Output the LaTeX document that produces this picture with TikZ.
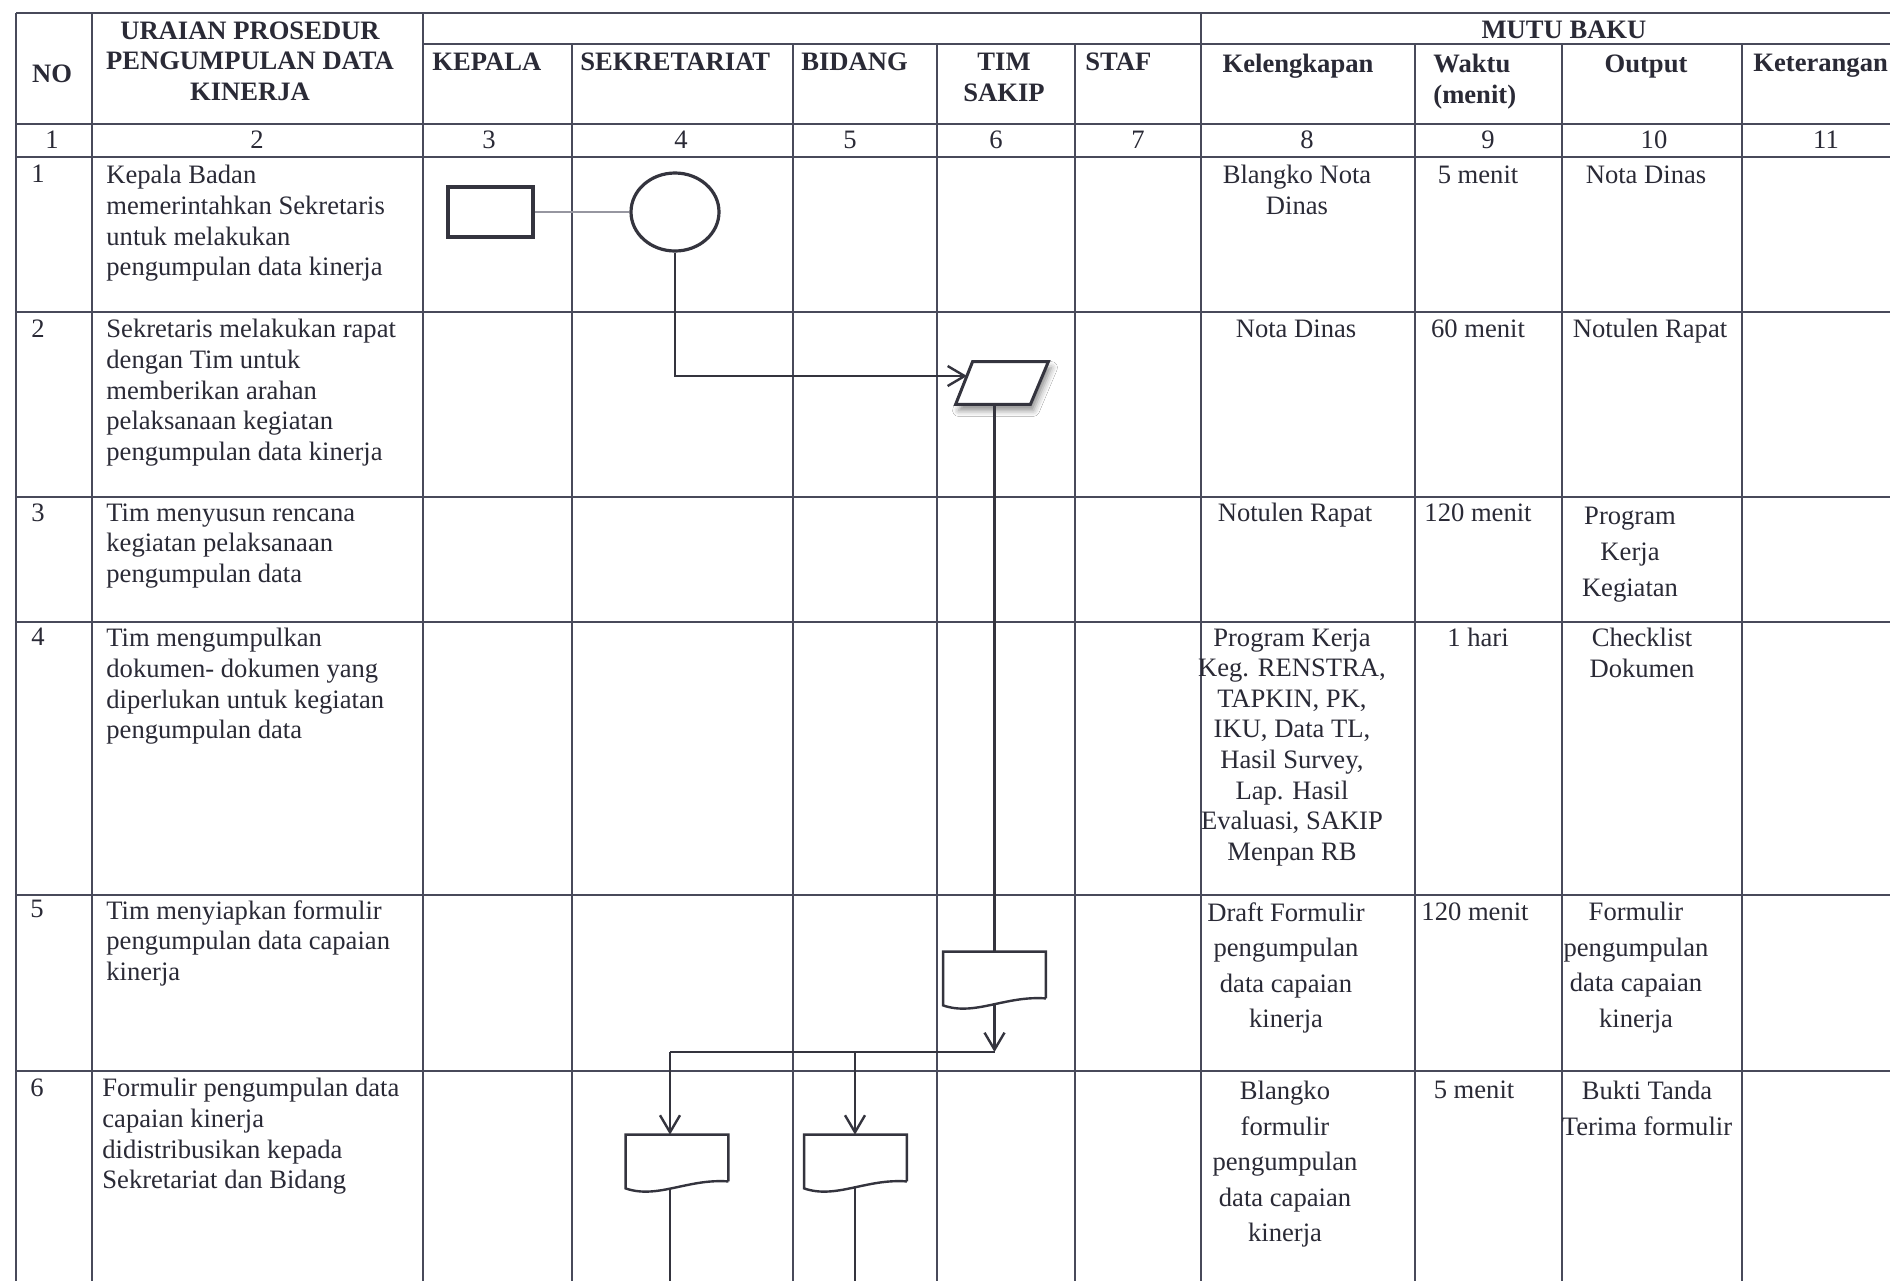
\documentclass[tikz,border=0pt]{standalone}
\usepackage{fontspec}
\setmainfont{Liberation Serif}
\usetikzlibrary{arrows.meta,calc,shapes.geometric,shadows.blur}

\definecolor{gridcol}{RGB}{72,74,90}
\definecolor{inkcol}{RGB}{42,42,54}
\definecolor{flowcol}{RGB}{52,52,62}
\definecolor{linkcol}{RGB}{150,150,160}

\begin{document}
\begin{tikzpicture}[x=0.5pt, y=-0.5pt]
\fill[white] (0,0) rectangle (1890,1281);
\useasboundingbox (0,0) rectangle (1890,1281);

\tikzset{GridStyle/.style = {draw=gridcol, line width=0.9pt} }

% table rows
\draw[GridStyle] (16,13) -- (1890,13);
\draw[GridStyle] (423,44) -- (1890,44);
\draw[GridStyle] (16,124) -- (1890,124);
\draw[GridStyle] (16,157) -- (1890,157);
\draw[GridStyle] (16,312) -- (1890,312);
\draw[GridStyle] (16,497) -- (1890,497);
\draw[GridStyle] (16,622) -- (1890,622);
\draw[GridStyle] (16,895) -- (1890,895);
\draw[GridStyle] (16,1071) -- (1890,1071);

% table columns
\draw[GridStyle] (16,13) -- (16,1281);
\draw[GridStyle] (92,13) -- (92,1281);
\draw[GridStyle] (423,13) -- (423,1281);
\draw[GridStyle] (572,44) -- (572,1281);
\draw[GridStyle] (793,44) -- (793,1281);
\draw[GridStyle] (937,44) -- (937,1281);
\draw[GridStyle] (1075,44) -- (1075,1281);
\draw[GridStyle] (1201,13) -- (1201,1281);
\draw[GridStyle] (1415,44) -- (1415,1281);
\draw[GridStyle] (1562,44) -- (1562,1281);
\draw[GridStyle] (1742,44) -- (1742,1281);


\tikzset{CellStyle/.style = {
 inner sep = 0pt,
 text = inkcol,
 font = {\fontsize{13.3}{15.3}\selectfont} },
 HeadStyle/.style = {CellStyle, font = {\fontsize{13.3}{15.3}\selectfont\bfseries} },
 WideStyle/.style = {CellStyle, font = {\fontsize{13.3}{17.75}\selectfont} } }

% header
\node[HeadStyle] (HNo) at (52,74) {NO};
\node[HeadStyle, anchor=north, align=center] (HUraian) at (250,21) {URAIAN PROSEDUR\\PENGUMPULAN DATA\\KINERJA};
\node[HeadStyle, anchor=west] (HKepala) at (432,62) {KEPALA};
\node[HeadStyle, anchor=west] (HSekretariat) at (580,62) {SEKRETARIAT};
\node[HeadStyle, anchor=west] (HBidang) at (801,62) {BIDANG};
\node[HeadStyle, anchor=north, align=center] (HTim) at (1004,53) {TIM\\SAKIP};
\node[HeadStyle, anchor=west] (HStaf) at (1085,62) {STAF};
\node[HeadStyle] (HMutu) at (1564,30) {MUTU BAKU};
\node[HeadStyle, anchor=north] (HKelengkapan) at (1298,54) {Kelengkapan};
\node[HeadStyle, anchor=north west, align=left] (HWaktu) at (1433,54) {Waktu\\(menit)};
\node[HeadStyle, anchor=north] (HOutput) at (1646,54) {Output};
\node[HeadStyle, anchor=north west] (HKeterangan) at (1753,54) {Keterangan};

% column numbers
\node[CellStyle] (C1) at (52,140) {1};
\node[CellStyle] (C2) at (257,140) {2};
\node[CellStyle] (C3) at (489,140) {3};
\node[CellStyle] (C4) at (681,140) {4};
\node[CellStyle] (C5) at (850,140) {5};
\node[CellStyle] (C6) at (996,140) {6};
\node[CellStyle] (C7) at (1138,140) {7};
\node[CellStyle] (C8) at (1307,140) {8};
\node[CellStyle] (C9) at (1488,140) {9};
\node[CellStyle] (C10) at (1654,140) {10};
\node[CellStyle] (C11) at (1826,140) {11};

% row numbers and steps
\node[CellStyle, anchor=north west] (N1) at (31,165) {1};
\node[CellStyle, anchor=north west] (N2) at (31,319) {2};
\node[CellStyle, anchor=north west] (N3) at (31,503) {3};
\node[CellStyle, anchor=north west] (N4) at (31,628) {4};
\node[CellStyle, anchor=north west] (N5) at (30,900) {5};
\node[CellStyle, anchor=north west] (N6) at (30,1078) {6};

\node[CellStyle, anchor=north west, align=left] (T1) at (106,165) {Kepala Badan\\memerintahkan Sekretaris\\untuk melakukan\\pengumpulan data kinerja};
\node[CellStyle, anchor=north west, align=left] (T2) at (106,319) {Sekretaris melakukan rapat\\dengan Tim untuk\\memberikan arahan\\pelaksanaan kegiatan\\pengumpulan data kinerja};
\node[CellStyle, anchor=north west, align=left] (T3) at (106,503) {Tim menyusun rencana\\kegiatan pelaksanaan\\pengumpulan data};
\node[CellStyle, anchor=north west, align=left] (T4) at (106,628) {Tim mengumpulkan\\dokumen- dokumen yang\\diperlukan untuk kegiatan\\pengumpulan data};
\node[CellStyle, anchor=north west, align=left] (T5) at (106,900) {Tim menyiapkan formulir\\pengumpulan data capaian\\kinerja};
\node[CellStyle, anchor=north west, align=left] (T6) at (102,1078) {Formulir pengumpulan data\\capaian kinerja\\didistribusikan kepada\\Sekretariat dan Bidang};

% mutu baku
\node[CellStyle, anchor=north, align=center] (K1) at (1297,165) {Blangko Nota\\Dinas};
\node[CellStyle, anchor=north] (W1) at (1478,165) {5 menit};
\node[CellStyle, anchor=north] (O1) at (1646,165) {Nota Dinas};
\node[CellStyle, anchor=north] (K2) at (1296,319) {Nota Dinas};
\node[CellStyle, anchor=north] (W2) at (1478,319) {60 menit};
\node[CellStyle, anchor=north] (O2) at (1650,319) {Notulen Rapat};
\node[CellStyle, anchor=north] (K3) at (1295,503) {Notulen Rapat};
\node[CellStyle, anchor=north] (W3) at (1478,503) {120 menit};
\node[CellStyle, anchor=north, align=center, font={\fontsize{13.3}{18}\selectfont}] (O3) at (1630,507) {Program\\Kerja\\Kegiatan};
\node[CellStyle, anchor=north, align=center] (K4) at (1292,628) {Program Kerja\\Keg. RENSTRA,\\TAPKIN, PK,\\IKU, Data TL,\\Hasil Survey,\\Lap. Hasil\\Evaluasi, SAKIP\\Menpan RB};
\node[CellStyle, anchor=north] (W4) at (1478,628) {1 hari};
\node[CellStyle, anchor=north, align=center] (O4) at (1642,628) {Checklist\\Dokumen};
\node[WideStyle, anchor=north, align=center] (K5) at (1286,902) {Draft Formulir\\pengumpulan\\data capaian\\kinerja};
\node[CellStyle, anchor=north] (W5) at (1475,902) {120 menit};
\node[WideStyle, anchor=north, align=center] (O5) at (1636,902) {Formulir\\pengumpulan\\data capaian\\kinerja};
\node[WideStyle, anchor=north, align=center] (K6) at (1285,1081) {Blangko\\formulir\\pengumpulan\\data capaian\\kinerja};
\node[CellStyle, anchor=north] (W6) at (1474,1080) {5 menit};
\node[WideStyle, anchor=north, align=center] (O6) at (1647,1081) {Bukti Tanda\\Terima formulir};


\tikzset{FlowStyle/.style = {draw=flowcol, line width=1.2pt},
 ArrowStyle/.style = {FlowStyle, -{Straight Barb[length=8.5pt, width=10pt]}},
 LinkStyle/.style = {draw=linkcol, line width=0.6pt} }

\tikzset{BoxStyle/.style = {
 shape = rectangle,
 draw = flowcol,
 line width = 1.8pt,
 inner sep = 0pt,
 minimum width = 42.5pt,
 minimum height = 25pt},
 CircleStyle/.style = {
 shape = ellipse,
 draw = flowcol,
 line width = 1.6pt,
 inner sep = 0pt,
 minimum width = 44pt,
 minimum height = 39pt},
 ShapeStyle/.style = {
 shape = rectangle,
 inner sep = 0pt},
 ParaLine/.style = {
 draw = flowcol,
 fill = white,
 line width = 1.5pt,
 blur shadow = {shadow xshift=1.5pt, shadow yshift=-3pt, shadow blur radius=3pt, shadow opacity=45}} }

% flow shapes
\node[BoxStyle] (kepalaBox) at (490.5,212) {};
\node[CircleStyle] (sekCircle) at (675,212) {};
\node[ShapeStyle, minimum width=46pt, minimum height=21pt] (timPara) at (1002,383) {};
\node[ShapeStyle, minimum width=51pt, minimum height=23pt] (timDoc) at (994.5,975) {};
\node[ShapeStyle, minimum width=51pt, minimum height=23pt] (sekDoc) at (677,1158) {};
\node[ShapeStyle, minimum width=51pt, minimum height=23pt] (bidDoc) at (855.5,1158) {};

\draw[ParaLine] ($(timPara.north west)+(17,0)$) -- (timPara.north east) -- ($(timPara.south east)+(-18,0)$) -- (timPara.south west) -- cycle;
\draw[FlowStyle] (timDoc.south east) -- (timDoc.north east) -- (timDoc.north west) -- ($(timDoc.south west)+(0,7)$) .. controls ($(timDoc.south)+(-19.5,18)$) and ($(timDoc.south)+(10.5,-3)$) .. (timDoc.south east);
\draw[FlowStyle] (sekDoc.south east) -- (sekDoc.north east) -- (sekDoc.north west) -- ($(sekDoc.south west)+(0,7)$) .. controls ($(sekDoc.south)+(-19.5,18)$) and ($(sekDoc.south)+(10.5,-3)$) .. (sekDoc.south east);
\draw[FlowStyle] (bidDoc.south east) -- (bidDoc.north east) -- (bidDoc.north west) -- ($(bidDoc.south west)+(0,7)$) .. controls ($(bidDoc.south)+(-19.5,18)$) and ($(bidDoc.south)+(10.5,-3)$) .. (bidDoc.south east);

% connectors
\coordinate (J0) at (994.5,1052);
\coordinate (J1) at (670,1052);
\coordinate (J2) at (855,1052);
\coordinate (sekEnd) at (670,1281);
\coordinate (bidEnd) at (855,1281);

\draw[LinkStyle] (kepalaBox.east) -- (sekCircle.west);
\draw[ArrowStyle] (sekCircle.south) |- ($(timPara.center)+(-35,-7)$);
\draw[FlowStyle] (timPara.south -| timDoc.north) -- (timDoc.north);
\draw[ArrowStyle] ($(timDoc.south)+(0,6)$) -- (J0);
\draw[FlowStyle] (J0) -- (J1);
\draw[ArrowStyle] (J1) -- (J1 |- sekDoc.north);
\draw[ArrowStyle] (J2) -- (J2 |- bidDoc.north);
\draw[FlowStyle] ($(sekDoc.south)+(-7,8)$) -- (sekEnd);
\draw[FlowStyle] ($(bidDoc.south)+(-0.5,6)$) -- (bidEnd);

\end{tikzpicture}
\end{document}
